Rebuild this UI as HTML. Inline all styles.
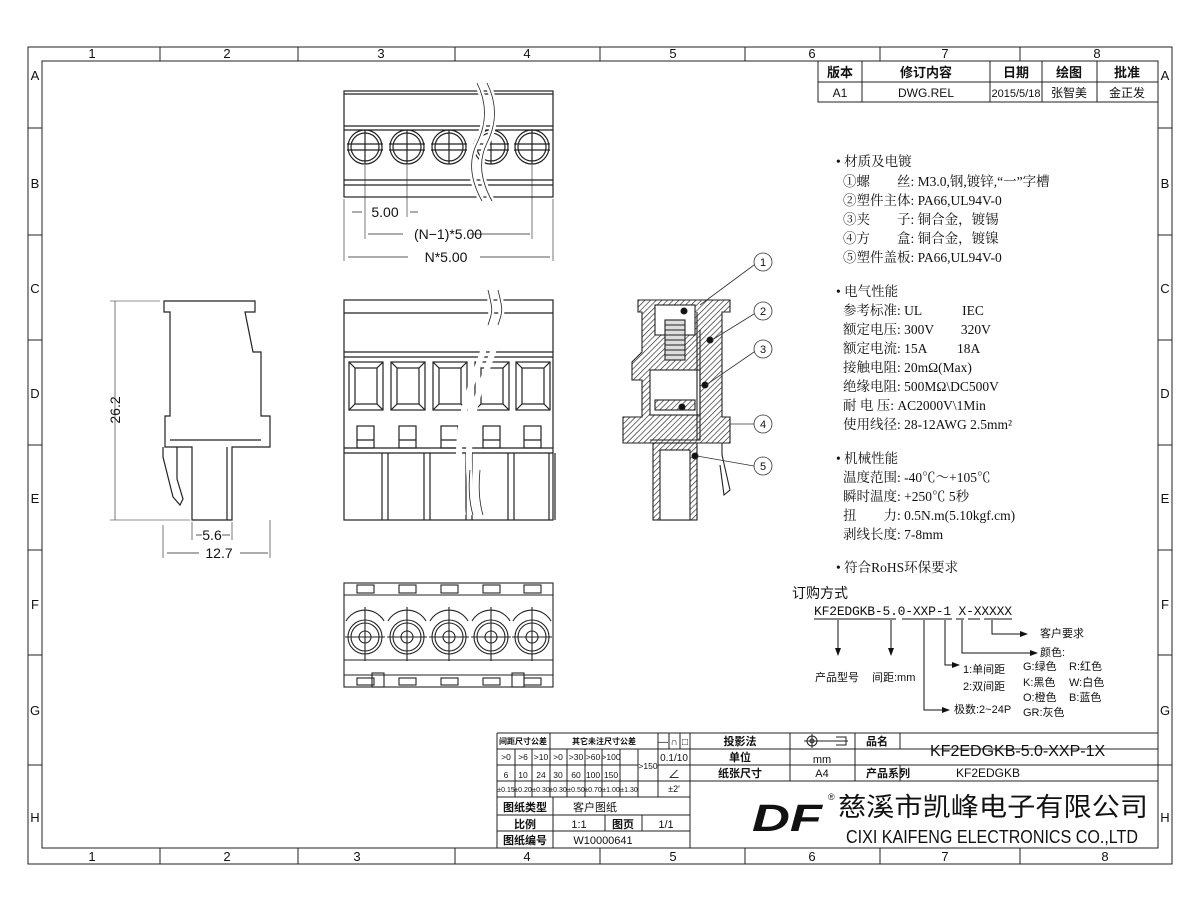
<!DOCTYPE html>
<html><head><meta charset="utf-8"><style>
html,body{margin:0;padding:0;background:#fff}
svg{display:block}
text{font-family:"Liberation Sans","Noto Sans CJK SC",sans-serif;fill:#111}
.s text{font-family:"Liberation Serif","Noto Serif CJK SC",serif}
</style></head><body>
<svg width="1200" height="910" viewBox="0 0 1200 910" xmlns="http://www.w3.org/2000/svg">
<defs>
<pattern id="h" width="4" height="4" patternUnits="userSpaceOnUse" patternTransform="rotate(45)"><line x1="0" y1="0" x2="0" y2="4" stroke="#222" stroke-width="1.3"/></pattern>
<marker id="ar" markerWidth="8" markerHeight="8" refX="7" refY="4" orient="auto"><path d="M0,1 L8,4 L0,7z" fill="#111"/></marker>
</defs>
<g fill="none" stroke="#222" stroke-width="1">
<rect x="28" y="47" width="1144" height="817"/>
<rect x="42" y="61" width="1116" height="787"/>
<path d="M160,47v14M298,47v14M455,47v14M600,47v14M745,47v14M880,47v14M1020,47v14M160,848v16M298,848v16M455,848v16M600,848v16M745,848v16M880,848v16M1020,848v16"/>
<path d="M28,128h14M28,235h14M28,340h14M28,445h14M28,550h14M28,655h14M28,765h14M1158,128h14M1158,235h14M1158,340h14M1158,445h14M1158,550h14M1158,655h14M1158,765h14"/>
</g>
<g font-size="13" text-anchor="middle">
<text x="92" y="58">1</text><text x="227" y="58">2</text><text x="381" y="58">3</text><text x="527" y="58">4</text><text x="673" y="58">5</text><text x="812" y="58">6</text><text x="945" y="58">7</text><text x="1097" y="58">8</text>
<text x="92" y="861">1</text><text x="227" y="861">2</text><text x="357" y="861">3</text><text x="527" y="861">4</text><text x="673" y="861">5</text><text x="812" y="861">6</text><text x="945" y="861">7</text><text x="1105" y="861">8</text>
<text x="35" y="80">A</text><text x="35" y="188">B</text><text x="35" y="293">C</text><text x="35" y="398">D</text><text x="35" y="503">E</text><text x="35" y="609">F</text><text x="35" y="715">G</text><text x="35" y="822">H</text>
<text x="1165" y="80">A</text><text x="1165" y="188">B</text><text x="1165" y="293">C</text><text x="1165" y="398">D</text><text x="1165" y="503">E</text><text x="1165" y="609">F</text><text x="1165" y="715">G</text><text x="1165" y="822">H</text>
</g>
<!-- revision table -->
<g fill="none" stroke="#222"><rect x="818" y="61" width="340" height="41"/><path d="M818,82h340M862,61v41M990,61v41M1042,61v41M1097,61v41"/></g>
<g font-size="13" text-anchor="middle" font-weight="bold"><text x="840" y="77">版本</text><text x="926" y="77">修订内容</text><text x="1016" y="77">日期</text><text x="1069" y="77">绘图</text><text x="1127" y="77">批准</text></g>
<g font-size="12" text-anchor="middle"><text x="840" y="97">A1</text><text x="926" y="97">DWG.REL</text><text x="1016" y="97" font-size="11">2015/5/18</text><text x="1069" y="97">张智美</text><text x="1127" y="97">金正发</text></g>

<!-- top view -->
<g fill="none" stroke="#222" stroke-width="1.2">
<rect x="344" y="91" width="209" height="106"/>
<path d="M344,94h209M344,126h209M344,130h209M344,180h209M344,185h209"/>
<g id="sc"><circle cx="365" cy="147" r="17"/><circle cx="365" cy="147" r="14"/><path d="M347,144h36M347,150h36M365,130v34"/></g>
<use href="#sc" x="42"/><use href="#sc" x="84"/><use href="#sc" x="126"/><use href="#sc" x="167"/>
<path d="M477,83c10,20 10,40 0,60 -10,20 -5,40 5,58M487,83c10,20 10,40 0,60 -10,20 -5,40 5,58" stroke="#fff" stroke-width="6"/>
<path d="M477,83c10,20 10,40 0,60 -10,20 -5,40 5,58M487,83c10,20 10,40 0,60 -10,20 -5,40 5,58" stroke-width=".8"/>
<path d="M344,199v62M553,199v62M365,165v74M407,165v52M532,165v74" stroke-width=".6"/>
<path d="M352,212h10M410,212h8M368,234h35M470,234h60M348,257h60M480,257h70" stroke-width=".8"/>
</g>
<g font-size="14" text-anchor="middle"><text x="385" y="217">5.00</text><text x="448" y="239">(N−1)*5.00</text><text x="446" y="262">N*5.00</text></g>

<!-- side view -->
<g fill="none" stroke="#222" stroke-width="1.2">
<path d="M164,301H255V312H245L253,352H261V416H270V447H232V520H192V447H165V416H170V312H164Z"/>
<path d="M170,440H261M163,447v10l10,40 7,8 3,-6 -6,-20V447M227,447v73"/>
<path d="M115,301v219M110,301h50M110,520h80M163,525v33M270,520v38M192,522v18M232,522v18" stroke-width=".6"/>
<path d="M196,535h6M222,535h8M167,553h32M240,553h28" stroke-width=".8"/>
</g>
<text x="0" y="0" font-size="14" text-anchor="middle" transform="translate(120,410) rotate(-90)">26.2</text>
<g font-size="14" text-anchor="middle"><text x="212" y="540">5.6</text><text x="219" y="558">12.7</text></g>

<!-- front view -->
<g fill="none" stroke="#222" stroke-width="1.2">
<rect x="344" y="300" width="209" height="220"/>
<path d="M344,313h209M344,352h209M344,357h209M344,448h209M344,453h209"/>
<g id="bx"><rect x="349" y="362" width="34" height="48"/><rect x="355" y="368" width="22" height="36"/><path d="M349,362l6,6M383,362l-6,6M349,410l6,-6M383,410l-6,-6"/><rect x="357" y="426" width="17" height="22"/><path d="M357,440h17"/><path d="M382,453v67M388,453v67" /></g>
<use href="#bx" x="42"/><use href="#bx" x="84"/><use href="#bx" x="126"/><use href="#bx" x="167"/>
<path d="M488,290c10,30 -5,60 -15,90 -10,30 -20,60 -10,135M498,290c10,30 -5,60 -15,90 -10,30 -20,60 -10,135" stroke="#fff" stroke-width="6"/>
<path d="M488,290c5,20 5,20 0,35M498,290c5,20 5,20 0,35M470,470c-2,20 0,35 3,45M480,470c-2,20 0,35 3,45" stroke-width=".8"/>
</g>

<!-- section view -->
<g stroke="#222" stroke-width="1.1">
<path d="M638,300H730V312H722V417H730V443H623V417H642V380H632V362L642,352V312H638Z" fill="url(#h)"/>
<rect x="653" y="443" width="44" height="77" fill="url(#h)"/>
<rect x="660" y="450" width="30" height="70" fill="#fff"/>
<rect x="655" y="305" width="40" height="30" fill="#fff"/>
<rect x="665" y="320" width="20" height="40" fill="#ddd"/>
<path d="M665,325h20M665,330h20M665,335h20M665,340h20M665,345h20M665,350h20M665,355h20" fill="none"/>
<rect x="650" y="370" width="50" height="45" fill="#fff"/>
<rect x="655" y="400" width="40" height="10" fill="url(#h)"/>
<path d="M697,312V440M700,330v110h-50M722,443v12l8,35 -6,5 -4,-30" fill="none"/>
<circle cx="710" cy="340" r="3" fill="#111"/><circle cx="705" cy="385" r="3" fill="#111"/><circle cx="682" cy="407" r="3" fill="#111"/><circle cx="695" cy="456" r="3" fill="#111"/><circle cx="684" cy="311" r="3" fill="#111"/>
</g>
<g fill="none" stroke="#333" stroke-width=".8">
<circle cx="763" cy="262" r="9"/><circle cx="763" cy="311" r="9"/><circle cx="763" cy="349" r="9"/><circle cx="763" cy="424" r="9"/><circle cx="763" cy="466" r="9"/>
<path d="M754,265L700,305M754,314L712,340M754,352L706,385M754,424L730,424M754,466L697,456"/>
</g>
<g font-size="11" text-anchor="middle"><text x="763" y="266">1</text><text x="763" y="315">2</text><text x="763" y="353">3</text><text x="763" y="428">4</text><text x="763" y="470">5</text></g>

<!-- bottom view -->
<g fill="none" stroke="#222" stroke-width="1.1">
<rect x="344" y="583" width="209" height="104"/>
<path d="M344,595h209M344,675h209M344,660h209"/>
<g id="bt"><circle cx="365" cy="637" r="17"/><circle cx="365" cy="637" r="14"/><circle cx="365" cy="637" r="6"/><path d="M345,637h40M365,607v54M346,621a22,22 0 0 1 38,0"/><rect x="357" y="585" width="17" height="8"/><rect x="357" y="678" width="17" height="7"/></g>
<use href="#bt" x="42"/><use href="#bt" x="84"/><use href="#bt" x="126"/><use href="#bt" x="167"/>
<rect x="372" y="673" width="12" height="14"/><rect x="512" y="673" width="12" height="14"/>
</g>

<!-- spec text -->
<g class="s" font-size="13.5">
<text x="836" y="166">• 材质及电镀</text>
<text x="843" y="186">①螺　　丝: M3.0,钢,镀锌,“一”字槽</text>
<text x="843" y="205">②塑件主体: PA66,UL94V-0</text>
<text x="843" y="224">③夹　　子: 铜合金，镀锡</text>
<text x="843" y="243">④方　　盒: 铜合金，镀镍</text>
<text x="843" y="262">⑤塑件盖板: PA66,UL94V-0</text>
<text x="836" y="296">• 电气性能</text>
<text x="843" y="315">参考标准: UL　　　IEC</text>
<text x="843" y="334">额定电压: 300V　　320V</text>
<text x="843" y="353">额定电流: 15A　　 18A</text>
<text x="843" y="372">接触电阻: 20mΩ(Max)</text>
<text x="843" y="391">绝缘电阻: 500MΩ\DC500V</text>
<text x="843" y="410">耐 电 压: AC2000V\1Min</text>
<text x="843" y="429">使用线径: 28-12AWG 2.5mm²</text>
<text x="836" y="463">• 机械性能</text>
<text x="843" y="482">温度范围: -40℃～+105℃</text>
<text x="843" y="501">瞬时温度: +250℃ 5秒</text>
<text x="843" y="520">扭　　力: 0.5N.m(5.10kgf.cm)</text>
<text x="843" y="539">剥线长度: 7-8mm</text>
<text x="836" y="572">• 符合RoHS环保要求</text>
</g>

<!-- ordering -->
<text x="792" y="598" font-size="14">订购方式</text>
<text x="814" y="615" font-size="13" style="font-family:'Liberation Mono',monospace" textLength="198">KF2EDGKB-5.0-XXP-1 X-XXXXX</text>
<g fill="none" stroke="#111" stroke-width="1"><path d="M814,619h82M902,619h22M924,619h28M956,619h8M968,619h12M984,619h28"/>
<path d="M838,620v35" marker-end="url(#ar)"/><path d="M891,620v35" marker-end="url(#ar)"/>
<path d="M924,620v90h25" marker-end="url(#ar)"/><path d="M945,620v45h14" marker-end="url(#ar)"/><path d="M962,620v33h75" marker-end="url(#ar)"/><path d="M992,620v14h35" marker-end="url(#ar)"/></g>
<g font-size="11"><text x="1040" y="637">客户要求</text><text x="1040" y="656">颜色:</text>
<text x="1023" y="670">G:绿色</text><text x="1069" y="670">R:红色</text><text x="1023" y="686">K:黑色</text><text x="1069" y="686">W:白色</text><text x="1023" y="701">O:橙色</text><text x="1069" y="701">B:蓝色</text><text x="1023" y="716">GR:灰色</text>
<text x="963" y="673">1:单间距</text><text x="963" y="690">2:双间距</text><text x="954" y="713">极数:2~24P</text>
<text x="815" y="681">产品型号</text><text x="872" y="681">间距:mm</text></g>

<!-- title block -->
<g fill="none" stroke="#222" stroke-width="1">
<path d="M497,733H1158M497,749H690M497,781H1158M497,797H690M497,815H690M497,831H690M690,749H855M690,765H1158M855,749H1158"/>
<path d="M497,733V848M515,749v48M532,749v48M550,733v64M567,749v48M585,749v48M602,749v48M620,749v48M638,749v48M658,733v64M690,733v115M669,733v16M680,733v16M790,733v48M855,733v48M900,733v16M900,765v16M553,797v51M605,815v16M642,815v16"/>
<path d="M497,765h141M658,765h32"/>
</g>
<g font-size="8" text-anchor="middle" font-weight="bold"><text x="523" y="744">间距尺寸公差</text><text x="604" y="744">其它未注尺寸公差</text></g>
<g font-size="8.5" text-anchor="middle">
<text x="506" y="760">&gt;0</text><text x="523" y="760">&gt;6</text><text x="541" y="760">&gt;10</text><text x="558" y="760">&gt;0</text><text x="576" y="760">&gt;30</text><text x="593" y="760">&gt;60</text><text x="611" y="760">&gt;100</text>
<text x="506" y="778">6</text><text x="523" y="778">10</text><text x="541" y="778">24</text><text x="558" y="778">30</text><text x="576" y="778">60</text><text x="593" y="778">100</text><text x="611" y="778">150</text><text x="648" y="769">&gt;150</text>
</g>
<g font-size="7" text-anchor="middle">
<text x="506" y="792">±0.15</text><text x="523" y="792">±0.20</text><text x="541" y="792">±0.30</text><text x="558" y="792">±0.30</text><text x="576" y="792">±0.50</text><text x="593" y="792">±0.70</text><text x="611" y="792">±1.00</text><text x="629" y="792">±1.30</text><text x="674" y="792" font-size="9">±2'</text>
</g>
<g font-size="10" text-anchor="middle"><text x="674" y="761">0.1/10</text><text x="674" y="778" font-size="12">∠</text>
<text x="663" y="745">—</text><text x="674" y="745">∩</text><text x="685" y="745">□</text></g>
<g font-size="11" text-anchor="middle" font-weight="bold"><text x="740" y="745">投影法</text><text x="740" y="761">单位</text><text x="740" y="777">纸张尺寸</text><text x="877" y="745">品名</text><text x="888" y="777">产品系列</text>
<text x="525" y="811">图纸类型</text><text x="525" y="828">比例</text><text x="525" y="844">图纸编号</text><text x="623" y="828">图页</text></g>
<g font-size="11" text-anchor="middle"><text x="822" y="763">mm</text><text x="822" y="777">A4</text><text x="579" y="828">1:1</text><text x="666" y="828">1/1</text><text x="595" y="811" fill="#777">客户图纸</text><text x="603" y="844">W10000641</text></g>
<g fill="none" stroke="#222"><circle cx="812" cy="741" r="5"/><circle cx="812" cy="741" r="2"/><path d="M804,741h44M812,734v14M836,737h10v8h-10"/></g>
<text x="930" y="756" font-size="16" fill="#555">KF2EDGKB-5.0-XXP-1X</text>
<text x="956" y="777" font-size="12" fill="#555">KF2EDGKB</text>
<text x="752" y="831" font-size="38" font-weight="bold" font-style="italic" fill="#111" textLength="70" lengthAdjust="spacingAndGlyphs">DF</text>
<text x="828" y="800" font-size="9">®</text>
<text x="838" y="816" font-size="26" textLength="310" lengthAdjust="spacingAndGlyphs">慈溪市凯峰电子有限公司</text>
<text x="846" y="843" font-size="18" textLength="292" lengthAdjust="spacingAndGlyphs">CIXI KAIFENG ELECTRONICS CO.,LTD</text>
</svg>
</body></html>
